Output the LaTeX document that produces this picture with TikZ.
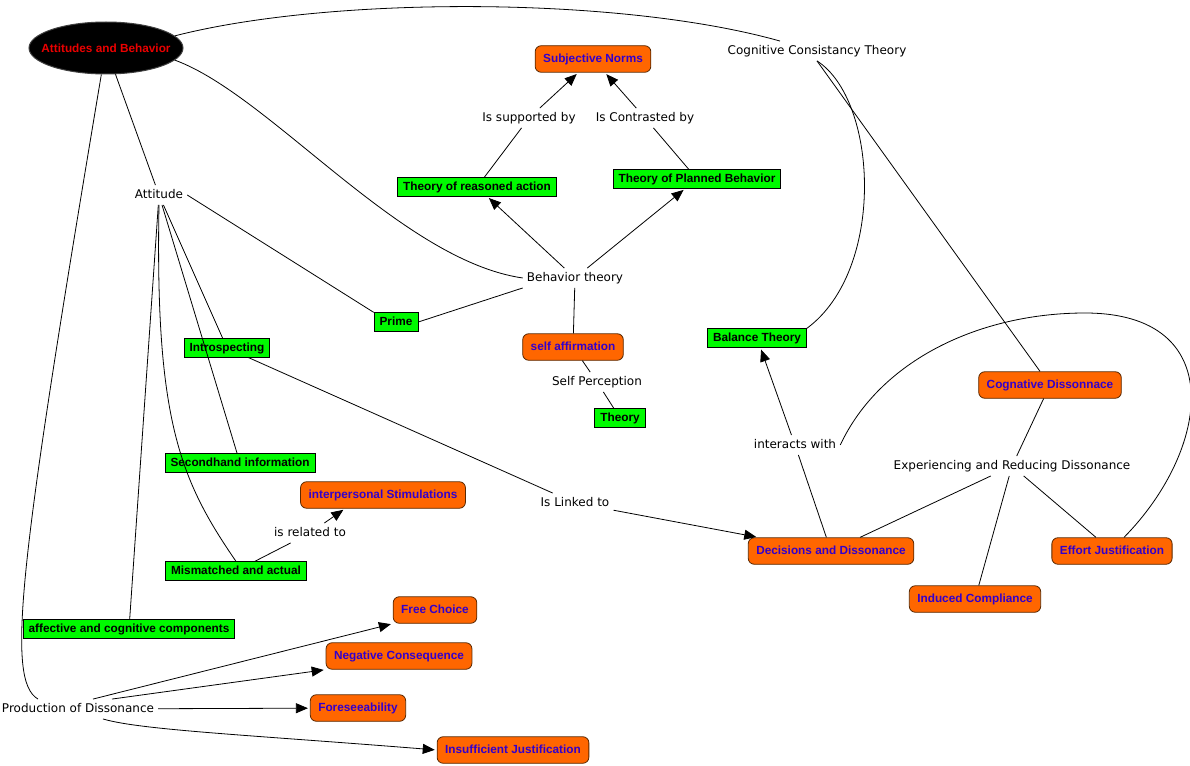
\documentclass[tikz,border=0pt]{standalone}
\usepackage{fontspec}
\setmainfont{DejaVu Sans}
\newfontfamily\conceptfont{Liberation Sans}
\usepackage{tikz}
\usetikzlibrary{shapes.geometric, arrows.meta}
\definecolor{cmapgreen}{RGB}{0, 250, 0}
\definecolor{cmaporange}{RGB}{255, 102, 0}
\definecolor{cmapblue}{RGB}{51, 0, 204}
\definecolor{cmapbrown}{RGB}{90, 40, 0}
\definecolor{cmapred}{RGB}{235, 0, 0}

\begin{document}
\begin{tikzpicture}[
  x=1pt, y=-1pt,
  topnode/.style={ellipse, draw=darkgray, fill=black, line width=1pt, minimum width=154pt, minimum height=52pt, inner xsep=-10.5pt, inner ysep=0pt, text=cmapred, font=\conceptfont\bfseries\fontsize{11.8}{13}\selectfont},
  greenbox/.style={draw=black, fill=cmapgreen, line width=0.8pt, inner xsep=5.5pt, inner ysep=3.5pt, text height=9pt, text depth=2.5pt, font=\conceptfont\bfseries\fontsize{11.8}{13}\selectfont},
  orangebox/.style={draw=cmapbrown, fill=cmaporange, rounded corners=6pt, line width=0.8pt, inner xsep=8pt, inner ysep=7.5pt, text height=9pt, text depth=2.5pt, text=cmapblue, font=\conceptfont\bfseries\fontsize{11.8}{13}\selectfont},
  phrase/.style={inner sep=4pt, text height=9pt, text depth=2.5pt, font=\fontsize{12}{14}\selectfont},
  link/.style={line width=0.8pt},
  arr/.style={line width=0.8pt, -{Triangle[length=12pt, width=10pt]}, shorten >=2pt}
]
  \useasboundingbox (0, 0) rectangle (1190, 765);

  % main concept
  \node[topnode] (ab) at (106, 48) {Attitudes and Behavior};

  % linking phrases
  \node[phrase] (cct) at (817, 51) {Cognitive Consistancy Theory};
  \node[phrase] (attitude) at (159, 195) {Attitude};
  \node[phrase] (supp) at (529, 118) {Is supported by};
  \node[phrase] (contr) at (645, 118) {Is Contrasted by};
  \node[phrase] (bt) at (575, 278) {Behavior theory};
  \node[phrase] (sp) at (597, 382) {Self Perception};
  \node[phrase] (inter) at (795, 445) {interacts with};
  \node[phrase] (exp) at (1012, 466) {Experiencing and Reducing Dissonance};
  \node[phrase] (linked) at (575, 503) {Is Linked to};
  \node[phrase] (related) at (310, 533) {is related to};
  \node[phrase] (pod) at (78, 709) {Production of Dissonance};

  % green concepts
  \node[greenbox] (tra) at (477, 187) {Theory of reasoned action};
  \node[greenbox] (tpb) at (697, 179) {Theory of Planned Behavior};
  \node[greenbox] (prime) at (396, 322) {Prime};
  \node[greenbox] (balance) at (757, 338) {Balance Theory};
  \node[greenbox] (theory) at (620, 418) {Theory};
  \node[greenbox] (intro) at (227, 348) {Introspecting};
  \node[greenbox] (second) at (240, 463) {Secondhand information};
  \node[greenbox] (mismatch) at (236, 571) {Mismatched and actual};
  \node[greenbox] (affect) at (129, 629) {affective and cognitive components};

  % orange concepts
  \node[orangebox] (norms) at (593, 59) {Subjective Norms};
  \node[orangebox] (selfaff) at (573, 347) {self affirmation};
  \node[orangebox] (cogdis) at (1050, 385) {Cognative Dissonnace};
  \node[orangebox] (interp) at (383, 495) {interpersonal Stimulations};
  \node[orangebox] (decis) at (831, 551) {Decisions and Dissonance};
  \node[orangebox] (effort) at (1112, 551) {Effort Justification};
  \node[orangebox] (induced) at (975, 599) {Induced Compliance};
  \node[orangebox] (free) at (435, 610) {Free Choice};
  \node[orangebox] (negcons) at (399, 656) {Negative Consequence};
  \node[orangebox] (fore) at (358, 708) {Foreseeability};
  \node[orangebox] (insuff) at (513, 750) {Insufficient Justification};

  % links from the main concept
  \draw[link] (ab.10) .. controls (330, -4) and (620, -4) .. ([xshift=-37pt]cct.north);
  \draw[link] (ab.-10) .. controls (270, 95) and (400, 260) .. (bt.west);
  \draw[link] (ab) -- (attitude);
  \draw[link] (ab.-100) .. controls (20, 560) and (5, 680) .. ([xshift=-40pt]pod.north);

  % attitude branch
  \draw[link] (attitude.east) -- (prime.north west);
  \draw[link] (attitude) -- (intro);
  \draw[link] (attitude) -- (second);
  \draw[link] (attitude.south) .. controls (155, 420) and (180, 480) .. (mismatch.north);
  \draw[link] (attitude) -- (affect);
  \draw[link] (intro) -- (linked);
  \draw[arr] (linked) -- (decis);
  \draw[link] (mismatch) -- (related);
  \draw[arr] (related) -- ([xshift=-38pt]interp.south);

  % behavior theory branch
  \draw[link] (bt.south west) -- (prime.east);
  \draw[arr] (bt) -- (tra);
  \draw[arr] (bt) -- (tpb);
  \draw[link] (bt) -- (selfaff);
  \draw[link] (tra) -- (supp);
  \draw[arr] (supp) -- (norms);
  \draw[link] (tpb) -- (contr);
  \draw[arr] (contr) -- (norms);
  \draw[link] (selfaff) -- (sp);
  \draw[link] (sp) -- (theory);

  % consistency branch
  \draw[link] (cct.south) .. controls (878, 100) and (886, 270) .. (balance.north east);
  \draw[link] (cct.south) -- ([xshift=-10pt]cogdis.north);
  \draw[link] (decis) -- (inter);
  \draw[arr] (inter) -- (balance);
  \draw[link] ([xshift=12pt]effort.north) .. controls (1210, 450) and (1230, 313) .. (1085, 313)
    .. controls (980, 313) and (880, 360) .. (inter.east);
  \draw[link] (cogdis) -- (exp);
  \draw[link] (exp) -- (decis);
  \draw[link] (exp) -- (induced);
  \draw[link] (exp) -- (effort);

  % production of dissonance
  \draw[arr] ([xshift=15pt]pod.north) -- (free.south west);
  \draw[arr] ([xshift=34pt]pod.north) -- (negcons.south west);
  \draw[arr] (pod) -- (fore);
  \draw[arr] ([xshift=25pt]pod.south) .. controls (140, 730) and (250, 735) .. (insuff.west);
\end{tikzpicture}
\end{document}
